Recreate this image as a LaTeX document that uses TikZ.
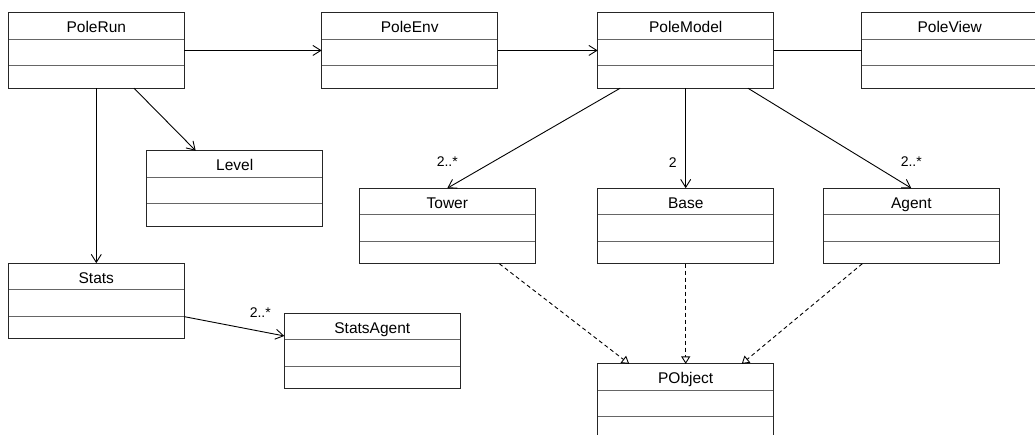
\documentclass[tikz,border=0pt]{standalone}
\usepackage{fontspec}
\setmainfont{Liberation Sans}
\usetikzlibrary{positioning,arrows.meta}

\begin{document}
\begin{tikzpicture}
            [
            x=1pt, y=1pt,
            >={Straight Barb[length=8pt, width=10pt]},
            class box/.style={rectangle, draw=black!85, line width=1.1pt,
                minimum width=176pt, inner xsep=0pt, inner ysep=0pt, outer sep=0pt,
                text height=20pt, text depth=55.5pt, font=\fontsize{15.5}{18}\selectfont,
                path picture={
                    \draw [line width=0.9pt, black!60]
                        ([yshift=-26.5pt]path picture bounding box.north west) -- ([yshift=-26.5pt]path picture bounding box.north east)
                        ([yshift=-53pt]path picture bounding box.north west) -- ([yshift=-53pt]path picture bounding box.north east);
                }},
            assoc/.style={line width=0.9pt},
            realize/.style={line width=0.9pt, dash pattern=on 4pt off 3pt,
                -{Triangle[open, length=7.5pt, width=9pt]}},
            mult/.style={font=\fontsize{14}{16}\selectfont, inner sep=0pt}
            ]

            \useasboundingbox (0,0) rectangle (1035,-434);

            \node (PoleRun) [class box, anchor=north west] at (8.3,-12.7) {PoleRun};
            \node (PoleEnv) [class box, right=137.4pt of PoleRun] {PoleEnv};
            \node (PoleModel) [class box, right=100pt of PoleEnv] {PoleModel};
            \node (PoleView) [class box, right=88pt of PoleModel] {PoleView};
            \node (Level) [class box, below=62.5pt of PoleRun, xshift=138.4pt] {Level};
            \node (Stats) [class box, below=175pt of PoleRun] {Stats};
            \node (StatsAgent) [class box, right=100pt of Stats, yshift=-50pt] {StatsAgent};

            % Model parts and their common base
            \node (Base) [class box, below=100pt of PoleModel] {Base};
            \node (Tower) [class box, left=62.4pt of Base] {Tower};
            \node (Agent) [class box, right=49.6pt of Base] {Agent};
            \node (PObject) [class box, below=100.2pt of Base] {PObject};

            \draw [assoc, ->] (PoleRun) -- (PoleEnv);
            \draw [assoc, ->] (PoleEnv) -- (PoleModel);
            \draw [assoc] (PoleModel) -- (PoleView);
            \draw [assoc, ->] ([xshift=37.7pt]PoleRun.south) -- ([xshift=-39pt]Level.north);
            \draw [assoc, ->] (PoleRun) -- (Stats);
            \draw [assoc, ->] ([yshift=-15.7pt]Stats.east) -- ([yshift=15pt]StatsAgent.west)
                node [mult, at end, xshift=-24pt, yshift=23pt] {2..*};

            \draw [assoc, ->] ([xshift=-65.5pt]PoleModel.south) -- (Tower.north)
                node [mult, at end, yshift=26.5pt] {2..*};
            \draw [assoc, ->] (PoleModel) -- (Base)
                node [mult, at end, xshift=-13pt, yshift=26pt] {2};
            \draw [assoc, ->] ([xshift=62.2pt]PoleModel.south) -- (Agent.north)
                node [mult, at end, yshift=26.5pt] {2..*};

            % Realisation of PObject
            \draw [realize] ([xshift=52pt]Tower.south) -- ([xshift=-56.5pt]PObject.north);
            \draw [realize] (Base) -- (PObject);
            \draw [realize] ([xshift=-49pt]Agent.south) -- ([xshift=56pt]PObject.north);

        \end{tikzpicture}
\end{document}
